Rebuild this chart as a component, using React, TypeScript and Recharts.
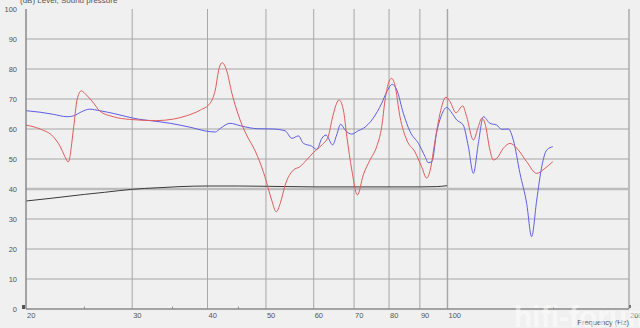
import React from "react";
import { LineChart, Line, XAxis, YAxis, ReferenceLine } from "recharts";

const FREQ_TICKS = [20, 30, 40, 50, 60, 70, 80, 90, 100, 200];
const FREQ_GRID = [30, 40, 50, 60, 70, 80, 90, 100, 200];
const MINOR_TICKS = [25, 35, 45, 150];
const DB_TICKS = [0, 10, 20, 30, 40, 50, 60, 70, 80, 90, 100];
const DB_GRID = [10, 20, 30, 50, 60, 70, 80, 90];

const redFreq = [
  20, 21.1, 22.2, 22.8, 23.2, 23.5, 24.0, 24.3, 24.7, 25.2, 25.9, 26.5, 27.9, 29.7, 32.9, 35.1,
  36.9, 38.9, 40.4, 41.2, 41.8, 42.3, 43.0, 43.9, 45.3, 46.7, 47.6, 49.8, 51.1, 52.0, 52.8, 53.8,
  55.5, 56.9, 58.4, 59.9, 61.9, 63.4, 64.5, 65.5, 66.1, 67.2, 68.1, 69.4, 70.9, 72.5, 74.4, 76.3,
  77.8, 78.8, 79.8, 80.8, 81.8, 83.4, 85.6, 88.3, 90.6, 92.4, 93.6, 95.4, 97.2, 99.4, 101.0, 103.3,
  106.0, 107.6, 110.4, 112.5, 114.0, 115.4, 117.6, 119.1, 120.7, 123.8, 127.0, 130.3, 135.3, 140.6,
  145.1, 149.5,
];
const redDb = [
  61.3, 60.0, 57.4, 54.1, 50.8, 49.0, 60.8, 69.7, 72.7, 71.3, 68.6, 66.0, 64.1, 63.2, 62.8, 63.3,
  64.4, 66.3, 68.6, 73.0, 80.2, 82.1, 79.7, 71.9, 63.0, 57.0, 54.1, 44.1, 36.3, 32.4, 35.2, 41.3,
  46.3, 47.4, 49.7, 52.1, 54.7, 57.4, 64.1, 68.6, 69.7, 66.3, 57.4, 46.3, 38.0, 44.7, 49.7, 54.1,
  60.8, 69.7, 75.2, 76.9, 74.7, 64.1, 56.3, 52.4, 47.4, 43.6, 46.3, 56.3, 65.2, 70.6, 69.1, 65.4,
  67.7, 64.1, 56.3, 60.8, 63.6, 61.9, 53.0, 49.7, 50.2, 53.6, 55.2, 53.6, 49.1, 45.2,
  46.9, 49.1,
];

const blueFreq = [
  20, 21.1, 22.2, 23.4, 24.0, 24.7, 25.5, 26.5, 27.9, 29.4, 30.7, 32.1, 34.7, 37.4, 40.4, 41.2,
  42.0, 43.6, 45.3, 47.0, 48.3, 51.4, 53.8, 55.2, 56.6, 57.7, 59.5, 60.7, 61.9, 62.9, 64.5, 65.5,
  66.5, 67.6, 69.4, 71.1, 72.5, 75.3, 77.8, 79.3, 81.0, 82.4, 84.5, 86.7, 89.5, 91.8, 92.9, 94.2,
  96.0, 97.8, 99.7, 101.3, 103.6, 106.2, 108.3, 110.4, 112.5, 114.7, 117.6, 120.7, 123.0, 126.2,
  128.6, 131.9, 135.3, 137.9, 140.6, 143.3, 146.1, 149.5,
];
const blueDb = [
  66.1, 65.6, 64.9, 64.1, 64.4, 65.7, 66.6, 66.1, 65.2, 64.1, 63.3, 62.8, 61.9, 60.6, 59.1, 59.0,
  60.2, 61.9, 61.1, 60.4, 60.1, 60.0, 59.4, 56.9, 57.7, 55.2, 54.3, 53.2, 56.9, 58.0, 54.7, 58.0,
  61.6, 59.7, 58.3, 59.4, 60.2, 63.6, 68.6, 72.4, 74.9, 73.0, 65.2, 59.1, 55.2, 50.8, 48.8, 49.1,
  59.1, 64.7, 67.2, 65.8, 63.0, 61.3, 54.1, 45.2, 55.2, 64.1, 61.9, 61.3, 59.9, 60.0,
  56.3, 45.2, 35.2, 24.1, 36.3, 47.4, 53.0, 54.1,
];

const blackFreq = [20, 22, 25, 27, 30, 33, 36, 40, 45, 50, 55, 60, 70, 80, 90, 96, 99.8];
const blackDb = [36.0, 36.9, 38.2, 38.9, 39.9, 40.4, 40.8, 41.0, 41.0, 40.9, 40.8, 40.7, 40.7, 40.7, 40.7, 40.8, 41.1];

const toPoints = (freq: number[], db: number[]) => freq.map((f, i) => ({ f, db: db[i] }));

const redData = toPoints(redFreq, redDb);
const blueData = toPoints(blueFreq, blueDb);
const blackData = toPoints(blackFreq, blackDb);

const FONT = "'Liberation Sans', Arial, sans-serif";
const GRID = "#a6a6a6";
const AXIS = "#8a8a8a";

function XTick(props: any) {
  const { x, payload } = props;
  return (
    <text x={x + 1} y={318} fontFamily={FONT} fontSize={7.5} fill="#555">
      {payload.value}
    </text>
  );
}

function YTick(props: any) {
  const { y, payload } = props;
  return (
    <text x={17} y={y + 2.7} textAnchor="end" fontFamily={FONT} fontSize={7.5} fill="#555">
      {payload.value}
    </text>
  );
}

export default function App() {
  return (
    <div style={{ position: "relative", width: 640, height: 328, background: "#f0f0f0", overflow: "hidden" }}>
      <style>{"body{margin:0}"}</style>
      <LineChart width={640} height={328} margin={{ top: 9, right: 11, bottom: 0, left: 0 }}>
        <XAxis
          dataKey="f"
          type="number"
          scale="log"
          domain={[20, 200]}
          allowDataOverflow
          ticks={FREQ_TICKS}
          interval={0}
          height={19}
          tickLine={false}
          tick={<XTick />}
          axisLine={{ stroke: AXIS, strokeWidth: 1.5 }}
        />
        <YAxis
          type="number"
          domain={[0, 100]}
          ticks={DB_TICKS}
          interval={0}
          width={26}
          tickLine={false}
          tick={<YTick />}
          axisLine={{ stroke: AXIS, strokeWidth: 1.5 }}
        />
        {FREQ_GRID.map((f) => (
          <ReferenceLine key={`v${f}`} x={f} stroke={GRID} strokeWidth={f === 100 || f === 200 ? 1.4 : 1} />
        ))}
        {DB_GRID.map((d) => (
          <ReferenceLine key={`h${d}`} y={d} stroke={GRID} strokeWidth={1} />
        ))}
        <ReferenceLine y={40} stroke="#bcbcbc" strokeWidth={2.4} />
        {MINOR_TICKS.map((f) => (
          <ReferenceLine
            key={`m${f}`}
            segment={[
              { x: f, y: 0 },
              { x: f, y: 0.8 },
            ]}
            stroke={AXIS}
            strokeWidth={1}
          />
        ))}
        <Line data={blackData} dataKey="db" type="monotone" stroke="#3a3a3a" strokeWidth={1} dot={false} isAnimationActive={false} />
        <Line data={blueData} dataKey="db" type="monotone" stroke="#5d5de6" strokeWidth={1} dot={false} isAnimationActive={false} />
        <Line data={redData} dataKey="db" type="monotone" stroke="#e25a5a" strokeWidth={1} dot={false} isAnimationActive={false} />
      </LineChart>
      <svg width={640} height={328} style={{ position: "absolute", left: 0, top: 0, pointerEvents: "none" }}>
        <text x={20} y={2.5} fontFamily={FONT} fontSize={8} fill="#555">
          (dB)  Level, Sound pressure
        </text>
        <text x={629} y={325} textAnchor="end" fontFamily={FONT} fontSize={7.5} fill="#555">
          Frequency  (Hz)
        </text>
        <text x={514} y={327} fontFamily={FONT} fontSize={30} fontWeight={700} fill="#ffffff" opacity={0.5}>
          hifi-forum.de
        </text>
        <rect x={22} y={305} width={3} height={4} fill="#555" />
        <rect x={629} y={305} width={2} height={3} fill="#777" />
      </svg>
    </div>
  );
}
